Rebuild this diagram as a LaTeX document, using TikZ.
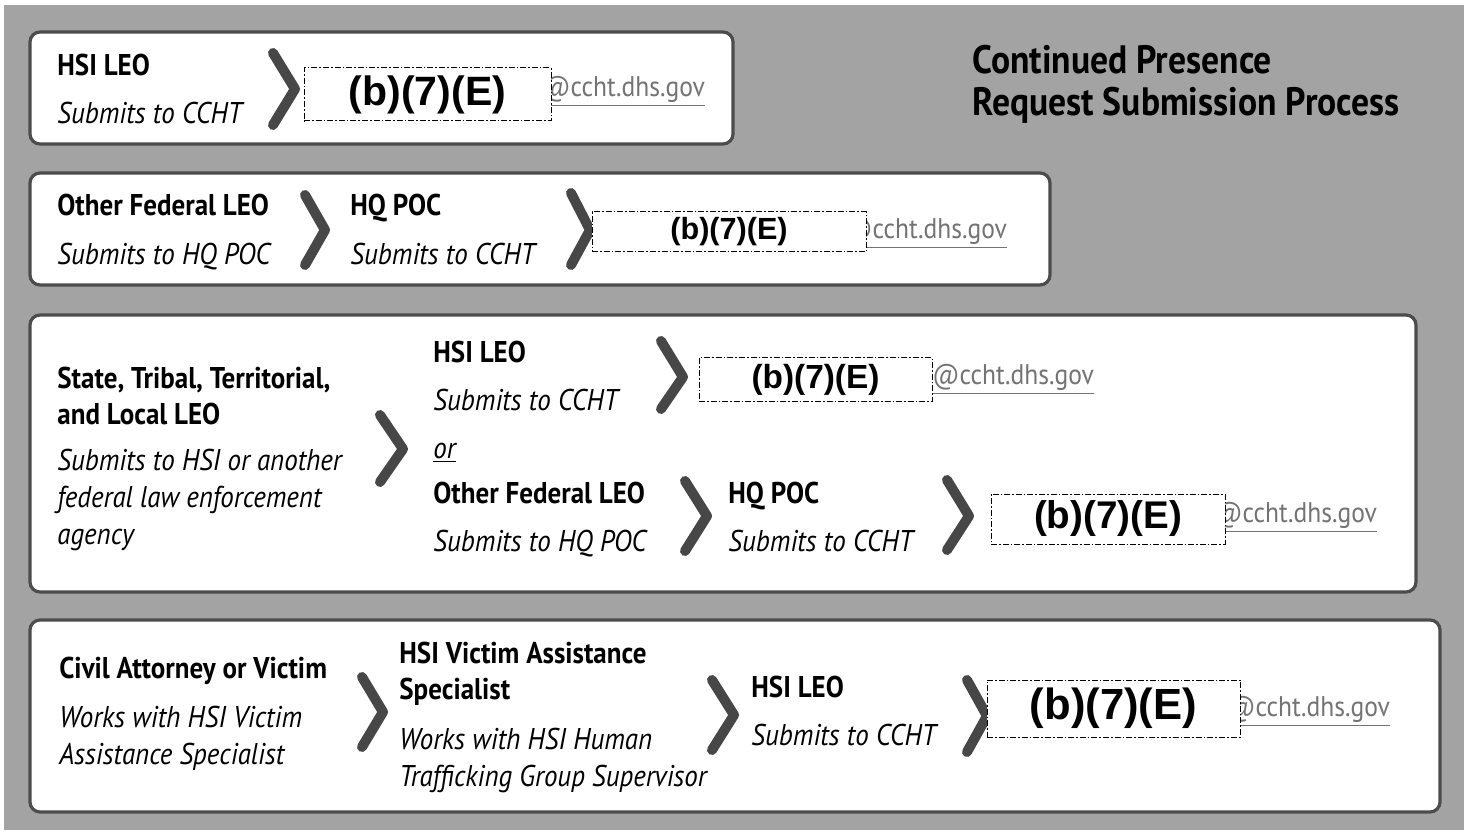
\documentclass[tikz,border=0pt]{standalone}
\usepackage{fontspec}
\setmainfont{PT Sans}[FakeStretch=0.9]
\newfontfamily\redactfont{Liberation Sans}
\begin{document}
\begin{tikzpicture}[x=0.5pt,y=-0.5pt,
  panel/.style={draw=black!70, line width=1.6pt, fill=white, rounded corners=5pt},
  head/.style={anchor=west, inner sep=0pt, align=left, font=\fontsize{15}{18}\selectfont\bfseries},
  sub/.style={anchor=west, inner sep=0pt, align=left, font=\fontsize{15}{18.5}\selectfont\itshape},
  email/.style={anchor=west, inner sep=0pt, text=black!55, font=\fontsize{14.2}{16}\selectfont},
  redact/.style={draw, fill=white, line width=0.5pt, dash pattern=on 3pt off 1pt on 0.8pt off 1pt, inner sep=0pt},
  chevron/.style={draw=black!72, line width=5pt, line cap=round, line join=round}]
\useasboundingbox (0,0) rectangle (1468,834);
\fill[white] (0,0) rectangle (1468,834);
\fill[black!36] (4,5) rectangle (1464,830);

% title
\node[anchor=west, inner sep=0pt, align=left, font=\fontsize{19.8}{21}\selectfont\bfseries] (title) at (972,84) {Continued Presence\\Request Submission Process};

% panel 1
\draw[panel] (30,32) rectangle (733,144);
\node[head] (hsi1) at (57,65) {HSI LEO};
\node[sub] (hsi1s) at (57,113) {Submits to CCHT};
\draw[chevron] (273,53) -- (295,89) -- (273,125);
\node[email] (mail1) at (543,91) {\underline{@ccht.dhs.gov}};
\node[redact, minimum width=123.5pt, minimum height=26.5pt] (red1) at (427.5,94.5) {};
\node[font=\redactfont\fontsize{20.5}{22}\selectfont\bfseries] at (red1) {(b)(7)(E)};

% panel 2
\draw[panel] (30,173) rectangle (1050,285);
\node[head] (fed2) at (57,205) {Other Federal LEO};
\node[sub] (fed2s) at (57,257) {Submits to HQ POC};
\draw[chevron] (305,195) -- (325,230) -- (305,265);
\node[head] (hq2) at (350,208) {HQ POC};
\node[sub] (hq2s) at (350,254) {Submits to CCHT};
\draw[chevron] (571,193) -- (590,230) -- (571,265);
\node[email] (mail2) at (845,233) {\underline{@ccht.dhs.gov}};
\node[redact, minimum width=137pt, minimum height=20pt] (red2) at (729,232) {};
\node[font=\redactfont\fontsize{15.3}{17}\selectfont\bfseries] at (red2) {(b)(7)(E)};

% panel 3
\draw[panel] (30,315) rectangle (1416,592);
\node[head] (stl3) at (57,396) {State, Tribal, Territorial,\\and Local LEO};
\node[sub] (stl3s) at (57,500) {Submits to HSI or another\\federal law enforcement\\agency};
\draw[chevron] (380,415) -- (403,449) -- (380,482);
\node[head] (hsi3) at (433,352) {HSI LEO};
\node[sub] (hsi3s) at (433,400) {Submits to CCHT};
\node[sub] (or3) at (433,453) {\underline{or}};
\draw[chevron] (661,341) -- (683,377) -- (661,409);
\node[email] (mail3a) at (932,379) {\underline{@ccht.dhs.gov}};
\node[redact, minimum width=116.5pt, minimum height=22pt] (red3a) at (815.5,380) {};
\node[font=\redactfont\fontsize{16.7}{18}\selectfont\bfseries] at (red3a) {(b)(7)(E)};
\node[head] (fed3) at (433,493) {Other Federal LEO};
\node[sub] (fed3s) at (433,544) {Submits to HQ POC};
\draw[chevron] (685,481) -- (707,516) -- (685,551);
\node[head] (hq3) at (728,496) {HQ POC};
\node[sub] (hq3s) at (728,541) {Submits to CCHT};
\draw[chevron] (947,480) -- (969,516) -- (947,550);
\node[email] (mail3b) at (1215,517) {\underline{@ccht.dhs.gov}};
\node[redact, minimum width=117pt, minimum height=25pt] (red3b) at (1108,519) {};
\node[font=\redactfont\fontsize{19.3}{21}\selectfont\bfseries] at (red3b) {(b)(7)(E)};

% panel 4
\draw[panel] (30,620) rectangle (1440,812);
\node[head] (civ4) at (59,671) {Civil Attorney or Victim};
\node[sub] (civ4s) at (59,738) {Works with HSI Victim\\Assistance Specialist};
\draw[chevron] (362,677) -- (383,712) -- (362,747);
\node[head] (vas4) at (399,674) {HSI Victim Assistance\\Specialist};
\node[sub] (vas4s) at (399,760) {Works with HSI Human\\Trafficking Group Supervisor};
\draw[chevron] (712,680) -- (734,715) -- (712,750);
\node[head] (hsi4) at (751,687) {HSI LEO};
\node[sub] (hsi4s) at (751,735) {Submits to CCHT};
\draw[chevron] (967,680) -- (987,716) -- (967,752);
\node[email] (mail4) at (1228,711) {\underline{@ccht.dhs.gov}};
\node[redact, minimum width=126.5pt, minimum height=28.5pt] (red4) at (1113.5,708.5) {};
\node[font=\redactfont\fontsize{21.8}{23}\selectfont\bfseries] at (red4) {(b)(7)(E)};
\end{tikzpicture}
\end{document}
